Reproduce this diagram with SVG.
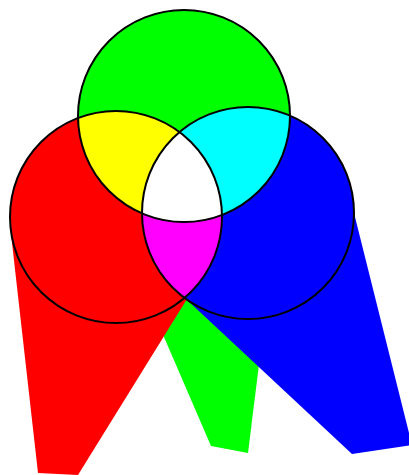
<svg xmlns="http://www.w3.org/2000/svg" width="409" height="475" viewBox="0 0 409 475">
  <defs>
    <style>
      .ring { fill: none; stroke: #000; stroke-width: 2; }
    </style>
    <clipPath id="clipR"><circle cx="116" cy="217" r="106"/></clipPath>
    <clipPath id="clipG"><circle cx="184" cy="116" r="106"/></clipPath>
    <clipPath id="clipB"><circle cx="248" cy="213" r="106"/></clipPath>
  </defs>
  <rect width="409" height="475" fill="#fff"/>
  <g id="shadows">
    <polygon id="shadow-green" fill="#00ff00" points="148,300 211,446 248,453 262,340 200,290"/>
    <polygon id="shadow-red" fill="#ff0000" points="10,225 38,473 78,475 187,299 116,217"/>
    <polygon id="shadow-blue" fill="#0000ff" points="186,299 352,454 412,445 352,205 248,213"/>
  </g>
  <g id="fills">
    <circle id="red" cx="116" cy="217" r="106" fill="#ff0000"/>
    <circle id="green" cx="184" cy="116" r="106" fill="#00ff00"/>
    <circle id="blue" cx="248" cy="213" r="106" fill="#0000ff"/>
    <circle id="yellow" cx="184" cy="116" r="106" fill="#ffff00" clip-path="url(#clipR)"/>
    <circle id="cyan" cx="184" cy="116" r="106" fill="#00ffff" clip-path="url(#clipB)"/>
    <circle id="magenta" cx="116" cy="217" r="106" fill="#ff00ff" clip-path="url(#clipB)"/>
    <g id="white" clip-path="url(#clipR)">
      <circle cx="184" cy="116" r="106" fill="#ffffff" clip-path="url(#clipB)"/>
    </g>
  </g>
  <g id="outlines">
    <circle class="ring" cx="116" cy="217" r="106"/>
    <circle class="ring" cx="184" cy="116" r="106"/>
    <circle class="ring" cx="248" cy="213" r="106"/>
  </g>
</svg>
